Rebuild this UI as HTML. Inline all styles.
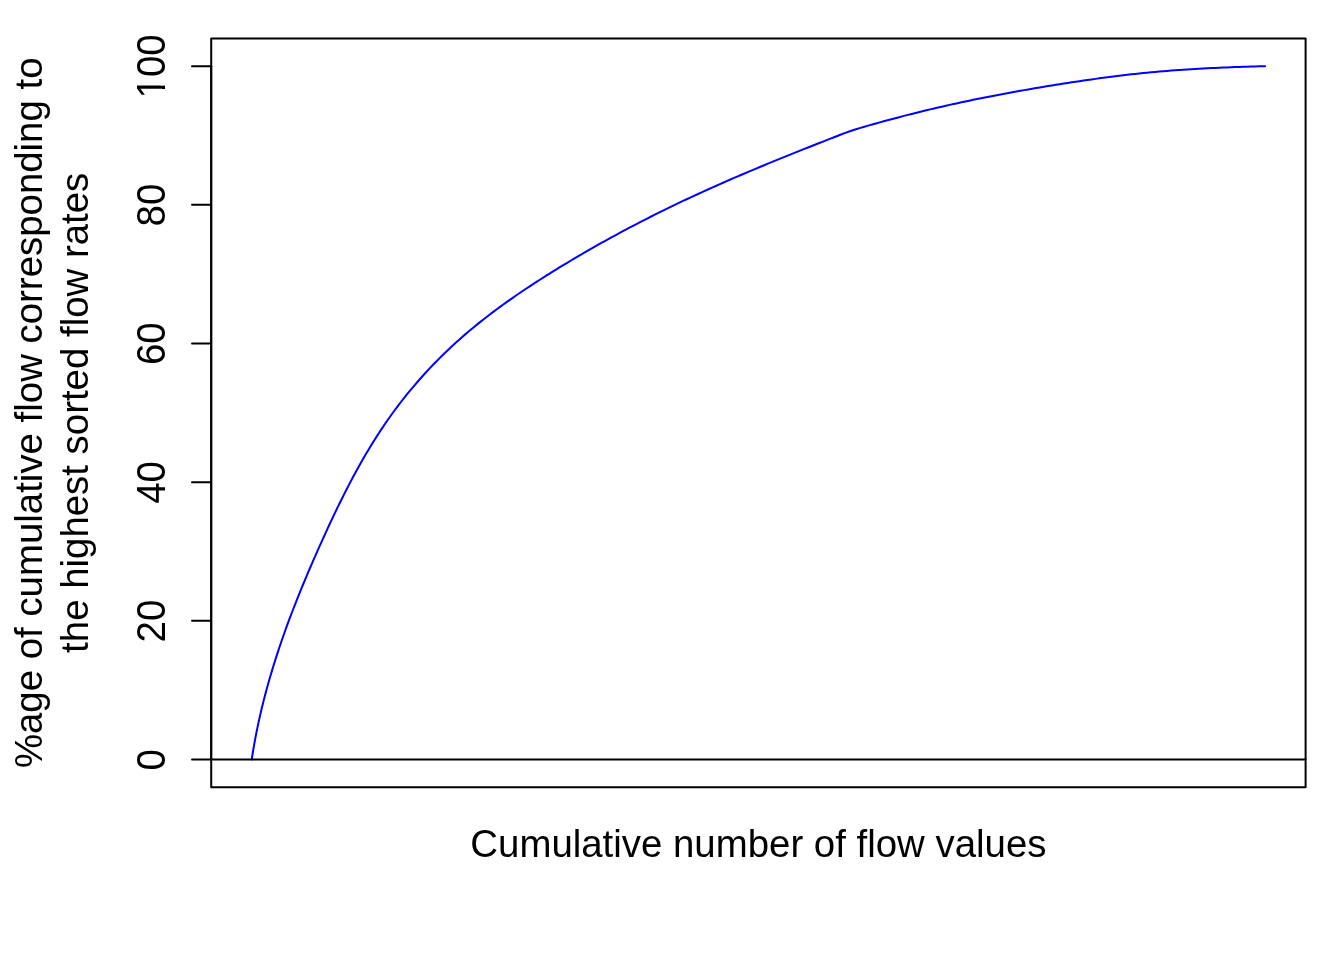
<!DOCTYPE html>
<html><head><meta charset="utf-8"><title>Cumulative flow</title>
<style>
html,body{margin:0;padding:0;background:#fff;}
svg{display:block;}
text{font-family:"Liberation Sans",Arial,Helvetica,sans-serif;font-size:38.4px;fill:#000;}
.ax line,.ax rect{stroke:#000;stroke-width:2;fill:none;stroke-linecap:round;stroke-linejoin:round;}
</style></head>
<body>
<svg width="1344" height="960" viewBox="0 0 1344 960">
<rect x="0" y="0" width="1344" height="960" fill="#fff"/>
<path d="M251.73,759.47 L252.35,755.49 L252.99,751.52 L253.66,747.56 L254.35,743.60 L255.07,739.65 L255.82,735.71 L256.59,731.78 L257.39,727.86 L258.21,723.94 L259.06,720.03 L259.93,716.13 L260.83,712.23 L261.75,708.35 L262.70,704.47 L263.67,700.59 L264.66,696.73 L265.68,692.87 L266.71,689.01 L267.77,685.17 L268.86,681.33 L269.96,677.50 L271.08,673.67 L272.23,669.85 L273.40,666.03 L274.58,662.23 L275.79,658.42 L277.01,654.63 L278.25,650.84 L279.52,647.05 L280.80,643.27 L282.10,639.50 L283.41,635.73 L284.74,631.97 L286.10,628.21 L287.46,624.46 L288.84,620.71 L290.24,616.97 L291.66,613.23 L293.09,609.50 L294.53,605.77 L295.99,602.05 L297.46,598.33 L298.95,594.62 L300.45,590.91 L301.96,587.20 L303.49,583.50 L305.03,579.81 L306.58,576.11 L308.14,572.42 L309.71,568.74 L311.30,565.06 L312.89,561.38 L314.50,557.70 L316.11,554.03 L317.74,550.36 L319.37,546.70 L321.02,543.04 L322.67,539.38 L324.33,535.72 L326.00,532.07 L327.68,528.42 L329.37,524.78 L331.07,521.14 L332.78,517.51 L334.50,513.88 L336.24,510.26 L337.99,506.65 L339.75,503.04 L341.53,499.45 L343.32,495.86 L345.13,492.28 L346.95,488.71 L348.79,485.14 L350.65,481.59 L352.53,478.05 L354.42,474.52 L356.33,471.01 L358.27,467.50 L360.22,464.01 L362.19,460.53 L364.19,457.07 L366.20,453.62 L368.24,450.18 L370.30,446.76 L372.39,443.36 L374.50,439.97 L376.64,436.60 L378.80,433.24 L380.99,429.91 L383.20,426.59 L385.44,423.29 L387.71,420.00 L390.01,416.74 L392.33,413.50 L394.69,410.28 L397.07,407.08 L399.48,403.90 L401.92,400.74 L404.39,397.60 L406.89,394.49 L409.41,391.39 L411.97,388.32 L414.54,385.27 L417.15,382.24 L419.78,379.24 L422.44,376.25 L425.12,373.29 L427.83,370.36 L430.57,367.44 L433.33,364.55 L436.11,361.69 L438.92,358.85 L441.75,356.03 L444.61,353.23 L447.49,350.46 L450.39,347.72 L453.32,345.00 L456.27,342.31 L459.24,339.64 L462.23,336.99 L465.25,334.37 L468.29,331.78 L471.34,329.21 L474.42,326.67 L477.52,324.15 L480.64,321.65 L483.77,319.18 L486.93,316.72 L490.10,314.29 L493.29,311.88 L496.49,309.49 L499.72,307.12 L502.95,304.76 L506.21,302.43 L509.47,300.11 L512.75,297.81 L516.05,295.52 L519.36,293.26 L522.68,291.00 L526.01,288.77 L529.35,286.55 L532.71,284.34 L536.07,282.15 L539.44,279.98 L542.83,277.81 L546.22,275.67 L549.62,273.53 L553.03,271.41 L556.44,269.30 L559.86,267.21 L563.29,265.12 L566.73,263.05 L570.17,260.99 L573.61,258.95 L577.06,256.91 L580.51,254.88 L583.97,252.87 L587.44,250.87 L590.91,248.88 L594.39,246.90 L597.87,244.93 L601.36,242.98 L604.85,241.03 L608.35,239.10 L611.85,237.18 L615.36,235.27 L618.87,233.36 L622.39,231.48 L625.91,229.60 L629.44,227.73 L632.98,225.87 L636.52,224.03 L640.06,222.19 L643.62,220.36 L647.17,218.55 L650.73,216.75 L654.30,214.95 L657.87,213.17 L661.45,211.40 L665.04,209.63 L668.62,207.88 L672.22,206.14 L675.82,204.41 L679.42,202.69 L683.03,200.97 L686.65,199.27 L690.27,197.58 L693.90,195.90 L697.53,194.22 L701.16,192.56 L704.80,190.90 L708.45,189.25 L712.10,187.62 L715.75,185.99 L719.41,184.36 L723.07,182.75 L726.73,181.14 L730.40,179.54 L734.07,177.95 L737.75,176.37 L741.43,174.79 L745.11,173.22 L748.80,171.66 L752.49,170.11 L756.18,168.56 L759.87,167.01 L763.57,165.48 L767.27,163.95 L770.97,162.42 L774.68,160.90 L778.39,159.39 L782.09,157.88 L785.81,156.37 L789.52,154.87 L793.23,153.38 L796.95,151.89 L800.67,150.40 L804.38,148.92 L808.10,147.45 L811.83,145.97 L815.55,144.50 L819.27,143.04 L822.99,141.57 L826.72,140.11 L830.44,138.66 L834.17,137.20 L837.89,135.75 L841.62,134.30 L845.35,132.87 L849.10,131.49 L852.89,130.22 L856.72,129.03 L860.56,127.89 L864.41,126.76 L868.26,125.64 L872.11,124.54 L875.97,123.45 L879.82,122.37 L883.68,121.30 L887.55,120.25 L891.41,119.21 L895.28,118.18 L899.15,117.16 L903.02,116.15 L906.90,115.15 L910.78,114.16 L914.66,113.19 L918.54,112.22 L922.43,111.27 L926.32,110.32 L930.21,109.39 L934.10,108.47 L938.00,107.56 L941.90,106.66 L945.80,105.76 L949.70,104.89 L953.60,104.02 L957.51,103.16 L961.42,102.31 L965.33,101.48 L969.25,100.65 L973.16,99.84 L977.08,99.04 L981.00,98.25 L984.92,97.46 L988.85,96.69 L992.77,95.93 L996.70,95.17 L1000.63,94.43 L1004.57,93.69 L1008.50,92.96 L1012.44,92.24 L1016.37,91.53 L1020.31,90.83 L1024.25,90.13 L1028.20,89.44 L1032.14,88.76 L1036.09,88.09 L1040.04,87.42 L1043.99,86.76 L1047.94,86.10 L1051.89,85.45 L1055.85,84.81 L1059.80,84.18 L1063.76,83.56 L1067.72,82.94 L1071.68,82.33 L1075.65,81.73 L1079.61,81.14 L1083.58,80.56 L1087.54,79.99 L1091.51,79.43 L1095.48,78.87 L1099.45,78.33 L1103.42,77.79 L1107.40,77.27 L1111.37,76.76 L1115.35,76.25 L1119.32,75.76 L1123.30,75.28 L1127.28,74.82 L1131.26,74.36 L1135.24,73.92 L1139.23,73.49 L1143.21,73.07 L1147.19,72.67 L1151.18,72.28 L1155.17,71.91 L1159.15,71.55 L1163.14,71.21 L1167.13,70.88 L1171.12,70.56 L1175.11,70.26 L1179.10,69.97 L1183.10,69.69 L1187.09,69.43 L1191.08,69.18 L1195.08,68.94 L1199.07,68.71 L1203.07,68.49 L1207.06,68.28 L1211.06,68.08 L1215.06,67.89 L1219.06,67.71 L1223.06,67.54 L1227.06,67.38 L1231.06,67.22 L1235.06,67.07 L1239.06,66.93 L1243.06,66.79 L1247.06,66.66 L1251.06,66.54 L1255.06,66.42 L1259.06,66.30 L1263.07,66.19 L1265.07,66.13" fill="none" stroke="#0000ff" stroke-width="2" stroke-linejoin="round" stroke-linecap="round"/>
<g class="ax">
<line x1="211.2" x2="1305.6" y1="759.47" y2="759.47"/>
<rect x="211.2" y="38.4" width="1094.40" height="748.80"/>
<line x1="211.2" x2="211.2" y1="759.47" y2="66.13"/>
<line x1="192.00" x2="211.20" y1="759.47" y2="759.47"/>
<line x1="192.00" x2="211.20" y1="620.80" y2="620.80"/>
<line x1="192.00" x2="211.20" y1="482.13" y2="482.13"/>
<line x1="192.00" x2="211.20" y1="343.47" y2="343.47"/>
<line x1="192.00" x2="211.20" y1="204.80" y2="204.80"/>
<line x1="192.00" x2="211.20" y1="66.13" y2="66.13"/>
</g>
<g>
<text transform="translate(165.3,759.77) rotate(-90) scale(1,1.04)" text-anchor="middle">0</text>
<text transform="translate(165.3,621.10) rotate(-90) scale(1,1.04)" text-anchor="middle">20</text>
<text transform="translate(165.3,482.43) rotate(-90) scale(1,1.04)" text-anchor="middle">40</text>
<text transform="translate(165.3,343.77) rotate(-90) scale(1,1.04)" text-anchor="middle">60</text>
<text transform="translate(165.3,205.10) rotate(-90) scale(1,1.04)" text-anchor="middle">80</text>
<text transform="translate(165.3,66.43) rotate(-90) scale(1,1.04)" text-anchor="middle">100</text>
<rect x="160.9" y="78" width="5.1" height="7.65" fill="#fff"/>
<rect x="160.9" y="89.05" width="5.1" height="7.2" fill="#fff"/>
</g>
<text x="758.4" y="857.3" text-anchor="middle">Cumulative number of flow values</text>
<text transform="translate(42.2,412.8) rotate(-90)" text-anchor="middle">%age of cumulative flow corresponding to</text>
<text transform="translate(87.9,412.8) rotate(-90)" text-anchor="middle">the highest sorted flow rates</text>
</svg>
</body></html>
